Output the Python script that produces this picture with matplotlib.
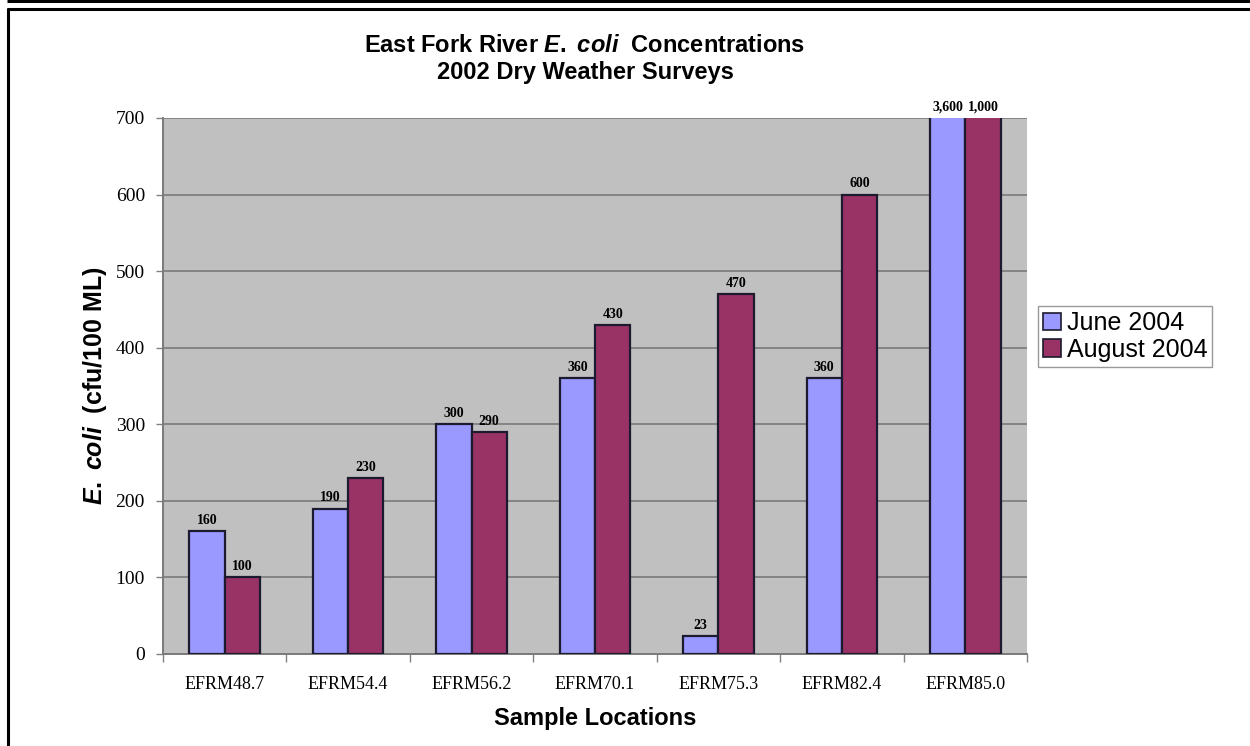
import matplotlib
matplotlib.use("Agg")
import matplotlib.pyplot as plt
from matplotlib.lines import Line2D
from matplotlib.patches import Patch
import numpy as np

# Sampling sites and E. coli results (cfu/100 mL)
locations = ["EFRM48.7", "EFRM54.4", "EFRM56.2", "EFRM70.1",
             "EFRM75.3", "EFRM82.4", "EFRM85.0"]
june_2004 = [160, 190, 300, 360, 23, 360, 3600]
august_2004 = [100, 230, 290, 430, 470, 600, 1000]
series_names = ["June 2004", "August 2004"]
y_ticks = [0, 100, 200, 300, 400, 500, 600, 700]

plt.rcParams["mathtext.fontset"] = "custom"
plt.rcParams["mathtext.it"] = "Liberation Sans:italic:bold"
plt.rcParams["mathtext.rm"] = "Liberation Sans:bold"
plt.rcParams["mathtext.bf"] = "Liberation Sans:bold"

W, H = 1250, 746
fig = plt.figure(figsize=(W / 100, H / 100), dpi=100)
fig.patch.set_facecolor("white")

# plot area in pixel terms
left, right, top, bottom = 163, 1027, 118, 654
ax = fig.add_axes([left / W, 1 - bottom / H, (right - left) / W, (bottom - top) / H])
ax.set_facecolor("#C0C0C0")

x = np.arange(len(locations))
bw = 0.286
edge = "#1c1a2e"
ax.bar(x - bw / 2, june_2004, bw, color="#9999FF", edgecolor=edge, linewidth=1.6, zorder=3)
ax.bar(x + bw / 2, august_2004, bw, color="#993366", edgecolor=edge, linewidth=1.6, zorder=3)

ymax = 700
ax.set_ylim(0, ymax)
ax.set_xlim(-0.5, len(locations) - 0.5)

# value labels above the bars (clipped bars get their label above the top)
for vals, off in ((june_2004, -bw / 2), (august_2004, bw / 2)):
    for xi, v in zip(x, vals):
        ax.annotate(f"{v:,}", (xi + off, min(v, ymax)), xytext=(0, 3),
                    textcoords="offset points", ha="center", va="bottom",
                    fontsize=10, fontweight="bold", family="Liberation Serif",
                    annotation_clip=False, zorder=5)

ax.set_yticks(y_ticks)
ax.set_yticklabels([str(t) for t in y_ticks], family="Liberation Serif", fontsize=14)
ax.yaxis.grid(True, color="#7a7a7a", linewidth=1.2, zorder=1)
ax.set_axisbelow(True)

# category ticks sit between groups, labels centred under each group
ax.set_xticks(np.arange(len(locations) + 1) - 0.5)
ax.set_xticklabels([])
ax.set_xticks(x, minor=True)
ax.set_xticklabels(locations, minor=True, family="Liberation Serif", fontsize=13)
ax.tick_params(axis="x", which="minor", length=0, pad=16)
ax.tick_params(axis="x", which="major", length=6, color="#808080", width=1)
ax.tick_params(axis="y", length=5, color="#808080", width=1, pad=8)

for s in ("top", "right"):
    ax.spines[s].set_visible(False)
for s in ("left", "bottom"):
    ax.spines[s].set_color("#7a7a7a")
    ax.spines[s].set_linewidth(1.4)

ax.set_xlabel("Sample Locations", family="Liberation Sans", fontweight="bold",
              fontsize=17, labelpad=10)
ax.set_ylabel(r"$\mathit{E.}$ $\mathit{coli}$  (cfu/100 ML)", family="Liberation Sans",
              fontweight="bold", fontsize=18, labelpad=5)

fig.text(0.468, 1 - 45 / H, r"East Fork River $\mathit{E.}$ $\mathit{coli}$  Concentrations",
         ha="center", va="center", family="Liberation Sans", fontweight="bold",
         fontsize=17)
fig.text(0.468, 1 - 72 / H, "2002 Dry Weather Surveys", ha="center", va="center",
         family="Liberation Sans", fontweight="bold", fontsize=17)

handles = [Patch(facecolor="#9999FF", edgecolor=edge, linewidth=1.2),
           Patch(facecolor="#993366", edgecolor=edge, linewidth=1.2)]
leg = fig.legend(handles, series_names, loc="upper left",
                 bbox_to_anchor=(1038 / W, 1 - 306 / H), frameon=True,
                 prop={"family": "Liberation Sans", "size": 18},
                 handlelength=0.7, handleheight=0.7, handletextpad=0.25,
                 borderpad=0.2, labelspacing=0.1, borderaxespad=0,
                 fancybox=False)
leg.get_frame().set_edgecolor("#808080")
leg.get_frame().set_linewidth(1.0)

# page frame lines
def px_line(x0, y0, x1, y1, lw):
    fig.add_artist(Line2D([x0 / W, x1 / W], [1 - y0 / H, 1 - y1 / H],
                          transform=fig.transFigure, color="black",
                          linewidth=lw, solid_capstyle="butt"))

px_line(7, 1, W, 1, 2.2)
px_line(7, 9, W, 9, 2.2)
px_line(8, 8, 8, H, 2.2)

fig.savefig("out.png", dpi=100)
